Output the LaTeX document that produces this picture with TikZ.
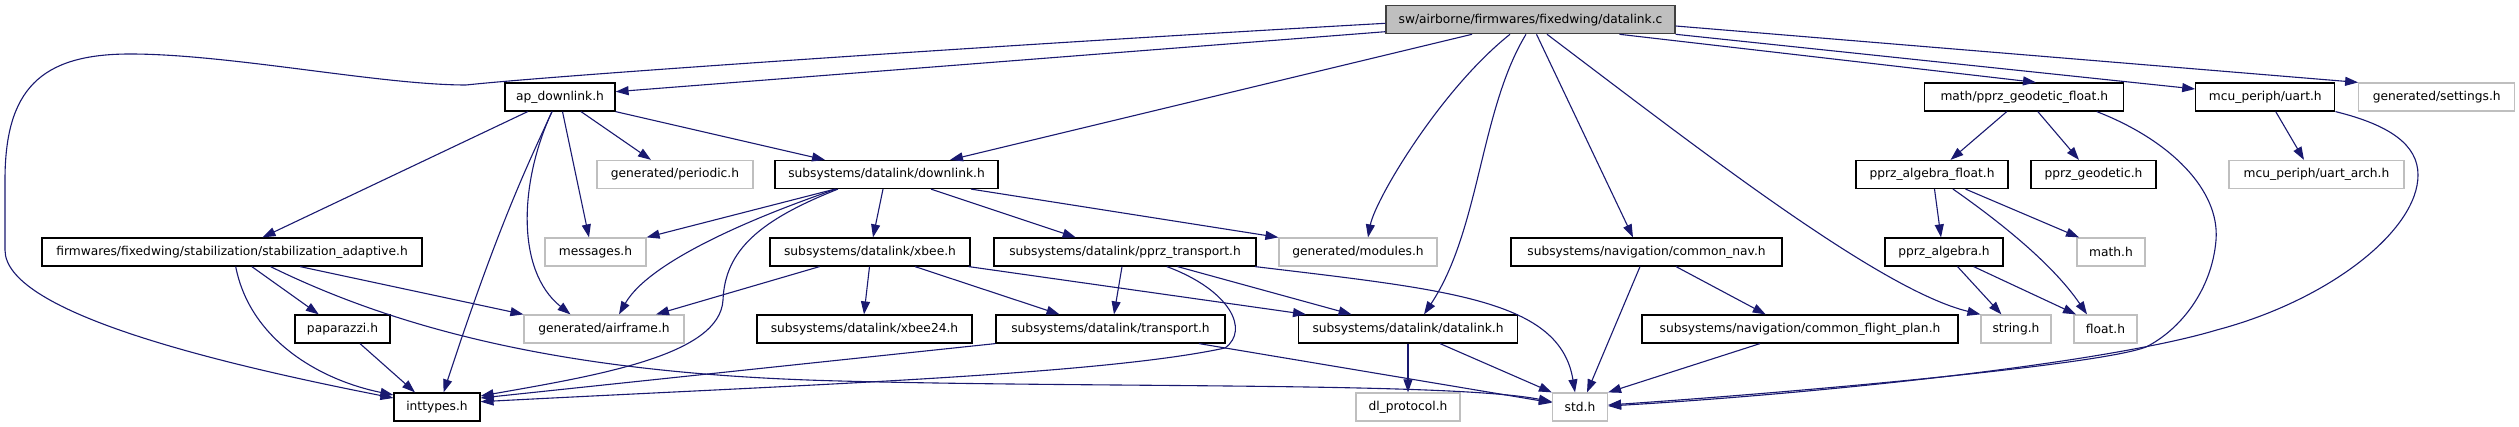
\documentclass[tikz,border=0pt]{standalone}
\usepackage{fontspec}
\setmainfont{DejaVu Sans}
\usetikzlibrary{arrows.meta}
\definecolor{edgecol}{HTML}{191970}
\definecolor{undoccol}{HTML}{BFBFBF}
\definecolor{rootfill}{HTML}{BFBFBF}
\definecolor{rootdraw}{HTML}{404040}
\tikzset{
  box/.style={draw, line width=1.2pt, minimum height=28, inner sep=0pt, fill=white,
              font=\fontsize{12.25}{14}\selectfont},
  doc/.style={box, draw=black},
  undoc/.style={box, draw=undoccol},
  rootbox/.style={box, draw=rootdraw, fill=rootfill},
  edge/.style={draw=edgecol, line width=1.1pt, -{Triangle[length=13pt,width=9pt]}},
}
\begin{document}
\begin{tikzpicture}[x=1pt,y=-1pt]
\useasboundingbox (0,0) rectangle (2519,427);
% ---------- nodes ----------
\node[rootbox, minimum width=289] (root) at (1530.5,19.7) {sw/airborne/firmwares/fixedwing/datalink.c};
\node[doc, minimum width=110] (apdl) at (560,97) {ap\_downlink.h};
\node[doc, minimum width=199] (geof) at (2024.3,97) {math/pprz\_geodetic\_float.h};
\node[doc, minimum width=139] (uart) at (2265.3,97) {mcu\_periph/uart.h};
\node[undoc, minimum width=156] (settings) at (2436.7,97) {generated/settings.h};
\node[undoc, minimum width=156] (periodic) at (675,174.5) {generated/periodic.h};
\node[doc, minimum width=223] (downlink) at (886.5,174.5) {subsystems/datalink/downlink.h};
\node[doc, minimum width=152] (algf) at (1932,174.5) {pprz\_algebra\_float.h};
\node[doc, minimum width=125] (geod) at (2093.5,174.5) {pprz\_geodetic.h};
\node[undoc, minimum width=175] (uartarch) at (2316.5,174.5) {mcu\_periph/uart\_arch.h};
\node[doc, minimum width=380] (stab) at (232,252) {firmwares/fixedwing/stabilization/stabilization\_adaptive.h};
\node[undoc, minimum width=101] (messages) at (595.5,252) {messages.h};
\node[doc, minimum width=200] (xbee) at (870,252) {subsystems/datalink/xbee.h};
\node[doc, minimum width=262] (pprzt) at (1125,252) {subsystems/datalink/pprz\_transport.h};
\node[undoc, minimum width=158] (modules) at (1358,252) {generated/modules.h};
\node[doc, minimum width=271] (nav) at (1646.5,252) {subsystems/navigation/common\_nav.h};
\node[doc, minimum width=118] (alg) at (1944,252) {pprz\_algebra.h};
\node[undoc, minimum width=68] (math) at (2111,252) {math.h};
\node[doc, minimum width=95] (pap) at (342.5,329) {paparazzi.h};
\node[undoc, minimum width=160] (airframe) at (604,329) {generated/airframe.h};
\node[doc, minimum width=215] (xbee24) at (864.5,329) {subsystems/datalink/xbee24.h};
\node[doc, minimum width=229] (transport) at (1110.5,329) {subsystems/datalink/transport.h};
\node[doc, minimum width=219] (dlh) at (1408,329) {subsystems/datalink/datalink.h};
\node[doc, minimum width=316] (fp) at (1800,329) {subsystems/navigation/common\_flight\_plan.h};
\node[undoc, minimum width=70] (string) at (2016,329) {string.h};
\node[undoc, minimum width=63] (float) at (2105.5,329) {float.h};
\node[doc, minimum width=86] (inttypes) at (437,407) {inttypes.h};
\node[undoc, minimum width=104] (dlp) at (1408,407) {dl\_protocol.h};
\node[undoc, minimum width=55] (std) at (1580,407) {std.h};
% ---------- edges from root ----------
\draw[edge] ([shift={(0,3.6)}]root.west) .. controls (1000,45) and (560,75) .. (466,85)
   .. controls (380,85) and (230,54) .. (130,54)
   .. controls (40,54) and (5,90) .. (5,180) -- (5,250)
   .. controls (5,310) and (200,360) .. ([shift={(0,-9)}]inttypes.west);
\draw[edge] ([shift={(0,12)}]root.west) -- ([shift={(0,-5.3)}]apdl.east);
\draw[edge] ([shift={(-58.5,0)}]root.south) -- ([shift={(63.5,0)}]downlink.north);
\draw[edge] ([shift={(-20.5,0)}]root.south) .. controls (1440,90) and (1375,200) .. ([shift={(10,0)}]modules.north);
\draw[edge] ([shift={(-4.5,0)}]root.south) .. controls (1480,110) and (1480,230) .. ([shift={(16,0)}]dlh.north);
\draw[edge] ([shift={(6,0)}]root.south) -- ([shift={(-13.5,0)}]nav.north);
\draw[edge] ([shift={(16.5,0)}]root.south) .. controls (1700,150) and (1880,290) .. (string.north west);
\draw[edge] ([shift={(89,0)}]root.south) -- ([shift={(11.7,0)}]geof.north);
\draw[edge] (root.south east) -- ([shift={(0,-8)}]uart.west);
\draw[edge] ([shift={(0,6.3)}]root.east) -- (settings.north west);
% ---------- ap_downlink.h ----------
\draw[edge] ([shift={(-32.3,0)}]apdl.south) -- ([shift={(30.5,0)}]stab.north);
\draw[edge] ([shift={(21,0)}]apdl.south) -- ([shift={(-24,0)}]periodic.north);
\draw[edge] (apdl.south east) -- ([shift={(-61.5,0)}]downlink.north);
\draw[edge] ([shift={(2.5,0)}]apdl.south) -- ([shift={(-6.5,0)}]messages.north);
\draw[edge] ([shift={(-8,0)}]apdl.south) .. controls (520,180) and (515,270) .. ([shift={(-33.5,0)}]airframe.north);
\draw[edge] ([shift={(-8,0)}]apdl.south) .. controls (530,160) and (500,220) .. ([shift={(6.6,0)}]inttypes.north);
% ---------- stabilization_adaptive.h ----------
\draw[edge] ([shift={(3.7,0)}]stab.south) .. controls (250,340) and (320,380) .. ([shift={(0,-12)}]inttypes.west);
\draw[edge] ([shift={(19.8,0)}]stab.south) -- ([shift={(-23.7,0)}]pap.north);
\draw[edge] ([shift={(38.5,0)}]stab.south) .. controls (420,340) and (600,375) .. (840,381)
   .. controls (1100,388) and (1450,382) .. ([shift={(0,-5.3)}]std.west);
\draw[edge] ([shift={(68,0)}]stab.south) -- (airframe.north west);
\draw[edge] ([shift={(17.5,0)}]pap.south) -- ([shift={(-22,0)}]inttypes.north);
% ---------- downlink.h ----------
\draw[edge] ([shift={(-51.5,0)}]downlink.south) -- (messages.north east);
\draw[edge] ([shift={(-50.5,0)}]downlink.south) .. controls (760,215) and (650,260) .. ([shift={(15,0)}]airframe.north);
\draw[edge] ([shift={(-48.5,0)}]downlink.south) .. controls (760,220) and (725,250) .. (723,300)
   .. controls (720,355) and (600,375) .. ([shift={(0,-11)}]inttypes.east);
\draw[edge] ([shift={(-3.5,0)}]downlink.south) -- ([shift={(3,0)}]xbee.north);
\draw[edge] ([shift={(44.5,0)}]downlink.south) -- ([shift={(-49.3,0)}]pprzt.north);
\draw[edge] ([shift={(84.5,0)}]downlink.south) -- (modules.north west);
% ---------- xbee.h ----------
\draw[edge] ([shift={(-50.4,0)}]xbee.south) -- ([shift={(52,0)}]airframe.north);
\draw[edge] ([shift={(-0.5,0)}]xbee.south) -- ([shift={(-0.5,0)}]xbee24.north);
\draw[edge] ([shift={(45,0)}]xbee.south) -- ([shift={(-51,0)}]transport.north);
\draw[edge] ([shift={(98.6,0)}]xbee.south) -- ([shift={(-102,0)}]dlh.north);
% ---------- pprz_transport.h ----------
\draw[edge] ([shift={(-3,0)}]pprzt.south) -- ([shift={(3.5,0)}]transport.north);
\draw[edge] ([shift={(41.8,0)}]pprzt.south) .. controls (1230,290) and (1250,330) .. (1225,348)
   .. controls (1100,375) and (800,385) .. ([shift={(0,-5.3)}]inttypes.east);
\draw[edge] ([shift={(52.5,0)}]pprzt.south) -- ([shift={(-56.4,0)}]dlh.north);
\draw[edge] ([shift={(130,0)}]pprzt.south) .. controls (1450,290) and (1560,300) .. ([shift={(-5,0)}]std.north);
% ---------- transport.h ----------
\draw[edge] (transport.south west) -- ([shift={(0,-9)}]inttypes.east);
\draw[edge] ([shift={(88.5,0)}]transport.south) -- ([shift={(0,-4.3)}]std.west);
% ---------- datalink.h ----------
\draw[edge] (dlh.south) -- (dlp.north);
\draw[edge] ([shift={(32,0)}]dlh.south) -- (std.north west);
% ---------- navigation ----------
\draw[edge] ([shift={(-6.5,0)}]nav.south) -- ([shift={(7,0)}]std.north);
\draw[edge] ([shift={(29.5,0)}]nav.south) -- ([shift={(-34.3,0)}]fp.north);
\draw[edge] ([shift={(-40,0)}]fp.south) -- (std.north east);
% ---------- math/pprz_geodetic_float.h ----------
\draw[edge] ([shift={(-17.5,0)}]geof.south) -- ([shift={(18.5,0)}]algf.north);
\draw[edge] ([shift={(13.5,0)}]geof.south) -- ([shift={(-14.5,0)}]geod.north);
\draw[edge] ([shift={(72.4,0)}]geof.south) .. controls (2170,140) and (2220,190) .. (2216,240)
   .. controls (2212,290) and (2180,330) .. (2146,347)
   .. controls (2100,365) and (1800,392) .. ([shift={(0,-2)}]std.east);
% ---------- mcu_periph/uart.h ----------
\draw[edge] ([shift={(10.4,0)}]uart.south) -- ([shift={(-12.5,0)}]uartarch.north);
\draw[edge] (uart.south east) .. controls (2390,125) and (2418,145) .. (2418,175)
   .. controls (2418,230) and (2330,300) .. (2216.7,330)
   .. controls (2100,365) and (1800,395) .. ([shift={(0,-1)}]std.east);
% ---------- pprz_algebra_float.h ----------
\draw[edge] ([shift={(2.5,0)}]algf.south) -- ([shift={(-3,0)}]alg.north);
\draw[edge] ([shift={(21,0)}]algf.south) .. controls (1990,215) and (2050,260) .. ([shift={(-18.5,0)}]float.north);
\draw[edge] ([shift={(33.5,0)}]algf.south) -- ([shift={(-32,0)}]math.north);
% ---------- pprz_algebra.h ----------
\draw[edge] ([shift={(13.5,0)}]alg.south) -- ([shift={(-14.6,0)}]string.north);
\draw[edge] ([shift={(29.6,0)}]alg.south) -- ([shift={(-29.5,0)}]float.north);
\end{tikzpicture}
\end{document}
